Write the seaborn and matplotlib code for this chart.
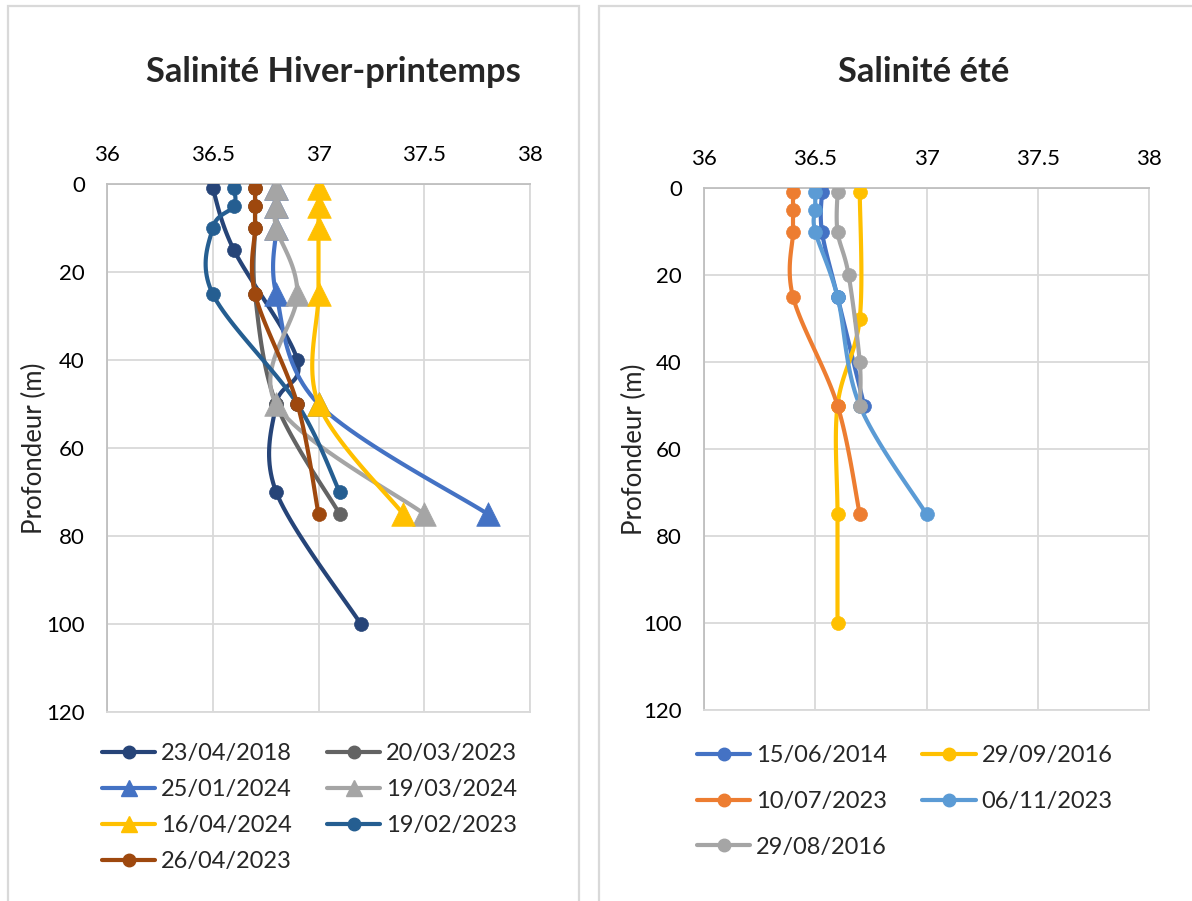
import numpy as np
import pandas as pd
import seaborn as sns
import matplotlib.pyplot as plt
from matplotlib.lines import Line2D
from matplotlib.patches import Rectangle

sns.set_style("white")
plt.rcParams['font.family'] = ['Lato', 'DejaVu Sans']

# ---- Axis ticks ----
sal_ticks = [36, 36.5, 37, 37.5, 38]
sal_ticklabels = ["36", "36.5", "37", "37.5", "38"]
depth_ticks = [0, 20, 40, 60, 80, 100, 120]

# ---- Winter / spring profiles (depth in m, salinity) ----
hp_labels = ["23/04/2018", "20/03/2023", "25/01/2024", "19/03/2024",
             "16/04/2024", "19/02/2023", "26/04/2023"]
hp_colors = ["#264478", "#636363", "#4472C4", "#A5A5A5",
             "#FFC000", "#255E91", "#9E480E"]
hp_markers = ["o", "o", "^", "^", "^", "o", "o"]

dep_20180423 = [1, 15, 40, 50, 70, 100]
sal_20180423 = [36.5, 36.6, 36.9, 36.8, 36.8, 37.2]
dep_20230320 = [1, 5, 10, 25, 50, 75]
sal_20230320 = [36.7, 36.7, 36.7, 36.7, 36.8, 37.1]
dep_20240125 = [1, 5, 10, 25, 50, 75]
sal_20240125 = [36.8, 36.8, 36.8, 36.8, 37.0, 37.8]
dep_20240319 = [1, 5, 10, 25, 50, 75]
sal_20240319 = [36.8, 36.8, 36.8, 36.9, 36.8, 37.5]
dep_20240416 = [1, 5, 10, 25, 50, 75]
sal_20240416 = [37.0, 37.0, 37.0, 37.0, 37.0, 37.4]
dep_20230219 = [1, 5, 10, 25, 50, 70]
sal_20230219 = [36.6, 36.6, 36.5, 36.5, 36.9, 37.1]
dep_20230426 = [1, 5, 10, 25, 50, 75]
sal_20230426 = [36.7, 36.7, 36.7, 36.7, 36.9, 37.0]

hp_depths = [dep_20180423, dep_20230320, dep_20240125, dep_20240319,
             dep_20240416, dep_20230219, dep_20230426]
hp_sals = [sal_20180423, sal_20230320, sal_20240125, sal_20240319,
           sal_20240416, sal_20230219, sal_20230426]

# ---- Summer profiles ----
ete_labels = ["15/06/2014", "29/09/2016", "10/07/2023", "06/11/2023", "29/08/2016"]
ete_colors = ["#4472C4", "#FFC000", "#ED7D31", "#5B9BD5", "#A5A5A5"]

dep_20140615 = [1, 10, 25, 50]
sal_20140615 = [36.53, 36.53, 36.6, 36.72]
dep_20160929 = [1, 30, 50, 75, 100]
sal_20160929 = [36.7, 36.7, 36.6, 36.6, 36.6]
dep_20230710 = [1, 5, 10, 25, 50, 75]
sal_20230710 = [36.4, 36.4, 36.4, 36.4, 36.6, 36.7]
dep_20231106 = [1, 5, 10, 25, 50, 75]
sal_20231106 = [36.5, 36.5, 36.5, 36.6, 36.7, 37.0]
dep_20160829 = [1, 10, 20, 40, 50]
sal_20160829 = [36.6, 36.6, 36.65, 36.7, 36.7]

ete_depths = [dep_20140615, dep_20160929, dep_20230710, dep_20231106, dep_20160829]
ete_sals = [sal_20140615, sal_20160929, sal_20230710, sal_20231106, sal_20160829]

W, H = 1192, 901
fig = plt.figure(figsize=(W / 100, H / 100), dpi=100)


def smooth(xs, ys, n=24):
    """Smoothed profile through the points (Catmull-Rom Bezier segments)."""
    p = np.column_stack([xs, ys]).astype(float)
    m = len(p)
    if m < 2:
        return p[:, 0], p[:, 1]
    t = np.linspace(0, 1, n)[:, None]
    parts = []
    for i in range(m - 1):
        p0, p1, p2, p3 = p[max(i - 1, 0)], p[i], p[i + 1], p[min(i + 2, m - 1)]
        c1 = p1 + (p2 - p0) / 6.0
        c2 = p2 - (p3 - p1) / 6.0
        seg = ((1 - t) ** 3) * p1 + 3 * ((1 - t) ** 2) * t * c1 \
            + 3 * (1 - t) * t ** 2 * c2 + t ** 3 * p2
        parts.append(seg if i == 0 else seg[1:])
    c = np.vstack(parts)
    return c[:, 0], c[:, 1]


def panel(ax, labels, colors, markers, depths, sals, marker_sizes):
    for i, (lab, col, mk, d, s) in enumerate(zip(labels, colors, markers, depths, sals)):
        sx, sy = smooth(s, d)
        curve = pd.DataFrame({"sal": sx, "depth": sy})
        sns.lineplot(data=curve, x="sal", y="depth", sort=False, estimator=None,
                     color=col, lw=3, ax=ax, zorder=3 + 2 * i)
        pts = pd.DataFrame({"sal": s, "depth": d})
        sns.scatterplot(data=pts, x="sal", y="depth", marker=mk,
                        s=marker_sizes[mk] ** 2, color=col, edgecolor=col,
                        linewidth=0.5, ax=ax, zorder=4 + 2 * i, legend=False)
    ax.set_xlim(36, 38)
    ax.set_ylim(120, 0)
    ax.set_xticks(sal_ticks)
    ax.set_xticklabels(sal_ticklabels)
    ax.set_yticks(depth_ticks)
    ax.xaxis.tick_top()
    ax.set_xlabel("")
    ax.grid(True, color="#D9D9D9", lw=1.3)
    ax.set_axisbelow(True)
    for side in ["left", "top"]:
        ax.spines[side].set_color("#BFBFBF")
        ax.spines[side].set_linewidth(1.3)
    for side in ["right", "bottom"]:
        ax.spines[side].set_color("#D9D9D9")
        ax.spines[side].set_linewidth(1.3)
    ax.tick_params(axis="both", length=0, labelsize=16, colors="#000000")
    ax.tick_params(axis="x", pad=14)
    ax.tick_params(axis="y", pad=16)


def handles(colors, markers, sizes):
    return [Line2D([], [], color=c, lw=3, marker=m, markersize=sizes[m],
                   markerfacecolor=c, markeredgecolor=c)
            for c, m in zip(colors, markers)]


# ---- Chart frames ----
fig.add_artist(Rectangle((8 / W, -0.02), (579 - 8) / W, 1.02 - 6 / H,
                         fill=False, ec="#D9D9D9", lw=1.6, transform=fig.transFigure))
fig.add_artist(Rectangle((599 / W, -0.02), 1.0, 1.02 - 6 / H,
                         fill=False, ec="#D9D9D9", lw=1.6, transform=fig.transFigure))

# ---- Left chart ----
ax1 = fig.add_axes([107 / W, 1 - 712 / H, 423 / W, 528 / H])
panel(ax1, hp_labels, hp_colors, hp_markers, hp_depths, hp_sals, {"o": 10, "^": 17})
ax1.set_ylabel("Profondeur (m)", fontsize=18.5, va="center")
ax1.yaxis.set_label_coords((34 - 107) / 423, 0.5)
fig.text(333 / W, 1 - 72 / H, "Salinité Hiver-printemps", fontsize=24.8,
         fontweight="bold", ha="center", va="center")
order1 = [0, 2, 4, 6, 1, 3, 5]
h1 = handles(hp_colors, hp_markers, {"o": 9, "^": 12})
fig.legend([h1[i] for i in order1], [hp_labels[i] for i in order1], ncol=2,
           loc="upper left", bbox_to_anchor=(102 / W, 1 - 743 / H),
           bbox_transform=fig.transFigure, frameon=False, fontsize=17,
           handlelength=2.25, handletextpad=0.25, columnspacing=1.5,
           labelspacing=0.64, borderpad=0, borderaxespad=0)

# ---- Right chart ----
ete_markers = ["o"] * len(ete_labels)
ax2 = fig.add_axes([704 / W, 1 - 710 / H, 445 / W, 522 / H])
panel(ax2, ete_labels, ete_colors, ete_markers, ete_depths, ete_sals, {"o": 10})
ax2.set_ylabel("Profondeur (m)", fontsize=18.5, va="center")
ax2.yaxis.set_label_coords((634 - 704) / 445, 0.5)
fig.text(924 / W, 1 - 72 / H, "Salinité été", fontsize=24.8,
         fontweight="bold", ha="center", va="center")
order2 = [0, 2, 4, 1, 3]
h2 = handles(ete_colors, ete_markers, {"o": 9})
fig.legend([h2[i] for i in order2], [ete_labels[i] for i in order2], ncol=2,
           loc="upper left", bbox_to_anchor=(697 / W, 1 - 745 / H),
           bbox_transform=fig.transFigure, frameon=False, fontsize=17,
           handlelength=2.25, handletextpad=0.25, columnspacing=1.5,
           labelspacing=1.05, borderpad=0, borderaxespad=0)

fig.savefig("out.png", dpi=100)
